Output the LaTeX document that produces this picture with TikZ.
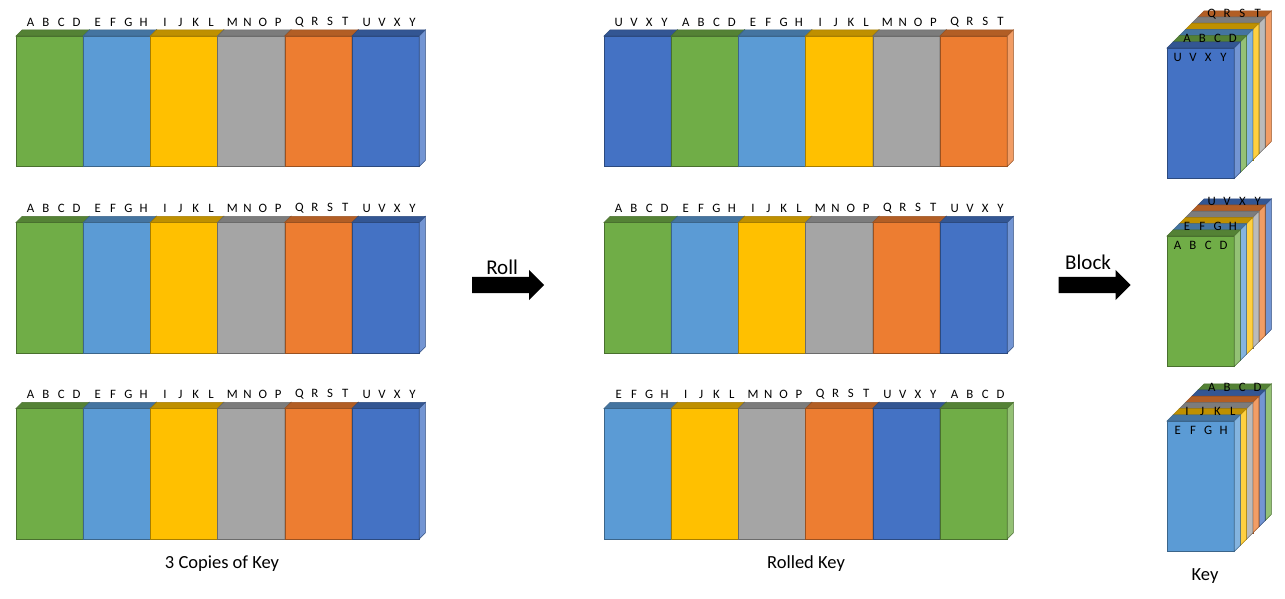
\documentclass[tikz,border=0pt]{standalone}
\usepackage{fontspec}
\setmainfont{Carlito}
\usetikzlibrary{positioning, shapes.arrows}

\definecolor{grn}{HTML}{70AD47}
\definecolor{lbl}{HTML}{5B9BD5}
\definecolor{yel}{HTML}{FFC000}
\definecolor{gry}{HTML}{A5A5A5}
\definecolor{org}{HTML}{ED7D31}
\definecolor{blu}{HTML}{4472C4}

\def\slabw{67.2}
\def\slabh{130.5}
\def\slabd{6.2}

% one slab of the key: front, top and right side
\newcommand{\keyslab}[3]{%
  \filldraw[draw=#3!65!black, line width=0.6pt, fill=#3]
    ({#1},{#2}) rectangle ++(\slabw,\slabh);
  \filldraw[draw=#3!65!black, line width=0.6pt, fill=#3!75!black]
    ({#1},{#2}) -- ++(\slabw,0) -- ++(\slabd,-\slabd) -- ++(-\slabw,0) -- cycle;
  \filldraw[draw=#3!65!black, line width=0.6pt, fill=#3!75!white]
    ({#1+\slabw},{#2}) -- ++(\slabd,-\slabd) -- ++(0,\slabh) -- ++(-\slabd,\slabd) -- cycle;
}
\newcommand{\keytxt}[4]{\makebox[15.3pt]{#1}\makebox[15.3pt]{#2}\makebox[15.3pt]{#3}\makebox[15.3pt]{#4}}

% slabs side by side, letters above
\newcommand{\keyrow}[4]{%
  \foreach \col/\txt [count=\i from 0] in {#4} {
    \keyslab{#2+\i*\slabw}{#3}{\col}
    \node[keylbl] (#1-\i) at ({#2+\i*\slabw+\slabw/2+4},{#3-14}) {\expandafter\keytxt\txt};
  }
}
% slabs one behind the other, listed back to front
\newcommand{\keystack}[3]{%
  \foreach \col [count=\i from 0] in {#3} {
    \keyslab{#1+(5-\i)*\slabd}{#2-(5-\i)*\slabd}{\col}
  }
}

\begin{document}
\begin{tikzpicture}[
	x=1pt, y=-1pt,
	keylbl/.style = {font=\fontsize{12.8}{14}\selectfont, inner sep=0pt},
	caption/.style = {font=\fontsize{18.5}{22}\selectfont, inner sep=0pt},
	bigtxt/.style = {font=\fontsize{21}{24}\selectfont},
	blockarrow/.style = {single arrow, fill=black, inner xsep=0pt, inner ysep=8pt,
		minimum height=72pt, minimum width=30pt, single arrow head extend=7pt, anchor=tail}
     ]
\useasboundingbox (0,0) rectangle (1285,598);
%
\keyrow{a}{16}{36}{grn/ABCD, lbl/EFGH, yel/IJKL, gry/MNOP, org/QRST, blu/UVXY}
\keyrow{b}{16}{222.5}{grn/ABCD, lbl/EFGH, yel/IJKL, gry/MNOP, org/QRST, blu/UVXY}
\keyrow{c}{16}{408.5}{grn/ABCD, lbl/EFGH, yel/IJKL, gry/MNOP, org/QRST, blu/UVXY}
\node[caption] (copies) at (222,564) {3 Copies of Key};
%
\keyrow{d}{604}{36}{blu/UVXY, grn/ABCD, lbl/EFGH, yel/IJKL, gry/MNOP, org/QRST}
\keyrow{e}{604}{222.5}{grn/ABCD, lbl/EFGH, yel/IJKL, gry/MNOP, org/QRST, blu/UVXY}
\keyrow{f}{604}{408.5}{lbl/EFGH, yel/IJKL, gry/MNOP, org/QRST, blu/UVXY, grn/ABCD}
\node[caption] (rolled) at (806,564) {Rolled Key};
%
\keystack{1167}{48}{org, gry, yel, lbl, grn, blu}
\keystack{1167}{236}{blu, org, gry, yel, lbl, grn}
\keystack{1167}{421}{grn, blu, org, gry, yel, lbl}
\node[keylbl] (s1-front) at (1200.6,57) {\keytxt UVXY};
\node[keylbl] (s1-next)  at (1209.9,38.7) {\keytxt ABCD};
\node[keylbl] (s1-back)  at (1234.7,13.9) {\keytxt QRST};
\node[keylbl] (s2-front) at (1200.6,245) {\keytxt ABCD};
\node[keylbl] (s2-next)  at (1209.9,226.7) {\keytxt EFGH};
\node[keylbl] (s2-back)  at (1234.7,201.9) {\keytxt UVXY};
\node[keylbl] (s3-front) at (1200.6,430) {\keytxt EFGH};
\node[keylbl] (s3-next)  at (1209.9,411.7) {\keytxt IJKL};
\node[keylbl] (s3-back)  at (1234.7,386.9) {\keytxt ABCD};
\node[caption] (key) at (1205,576) {Key};
%
\node[blockarrow] (roll) at (472,285) {};
\node[bigtxt, above=-1.3pt of roll, xshift=-2pt] (rolltxt) {Roll};
\node[blockarrow] (block) at (1058.5,285) {};
\node[bigtxt, above=3.7pt of block, xshift=-2.5pt] (blocktxt) {Block};
\end{tikzpicture}
\end{document}
